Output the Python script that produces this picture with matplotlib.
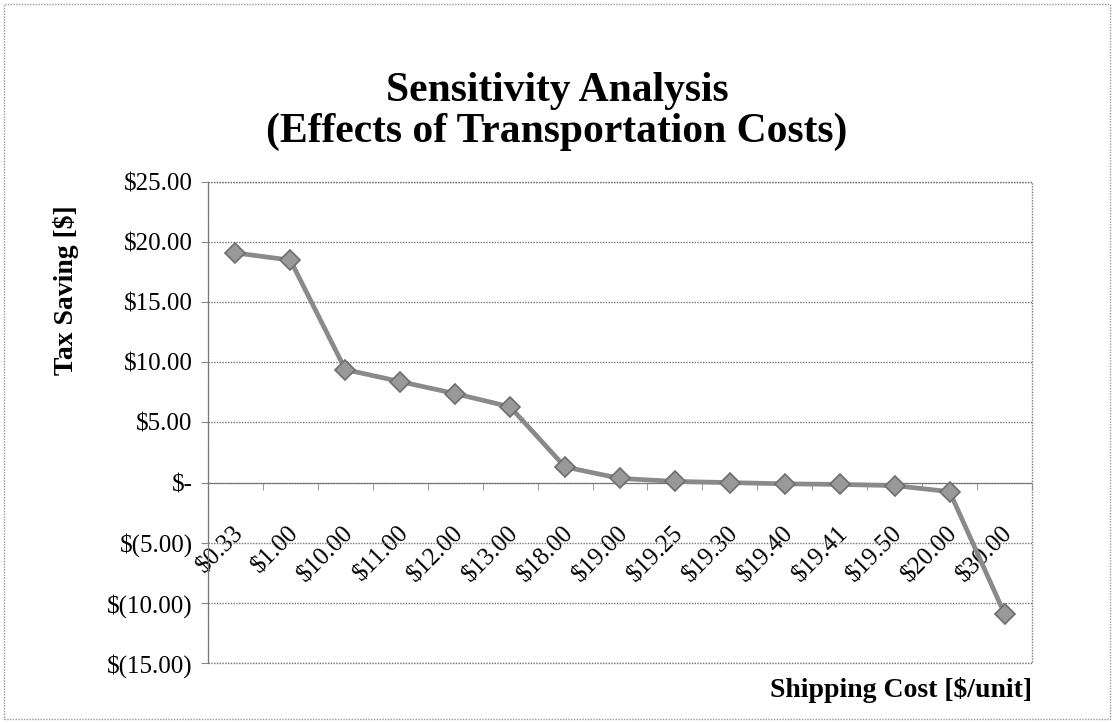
import numpy as np
import matplotlib.pyplot as plt
from matplotlib.patches import Rectangle
from matplotlib.ticker import FuncFormatter, MultipleLocator
from matplotlib.transforms import ScaledTranslation

shipping_cost = ["$0.33", "$1.00", "$10.00", "$11.00", "$12.00", "$13.00", "$18.00",
                 "$19.00", "$19.25", "$19.30", "$19.40", "$19.41", "$19.50", "$20.00", "$30.00"]
tax_saving = [19.1, 18.5, 9.4, 8.4, 7.4, 6.3, 1.3, 0.35, 0.1, 0.0, -0.1, -0.15, -0.25, -0.75, -10.9]

plt.rcParams['font.family'] = ['Liberation Serif', 'DejaVu Serif']

fig = plt.figure(figsize=(11.14, 7.23), dpi=100)
ax = fig.add_axes([0.1867, 0.083, 0.7397, 0.6653])

x = np.arange(len(shipping_cost))
ax.plot(x, tax_saving, color='#8a8a8a', lw=3.4, marker='D', ms=10,
        markerfacecolor='#999999', markeredgecolor='#6e6e6e', markeredgewidth=1.2, zorder=3)

ax.set_xlim(-0.5, len(shipping_cost) - 0.5)
ax.set_ylim(-15, 25)
ax.yaxis.set_major_locator(MultipleLocator(5))


def money(v, pos):
    if abs(v) < 1e-9:
        return "$-"
    if v < 0:
        return "$(%.2f)" % -v
    return "$%.2f" % v


ax.yaxis.set_major_formatter(FuncFormatter(money))
ax.tick_params(axis='y', labelsize=18, length=5, direction='out', color='#888888', pad=6)
ax.grid(axis='y', color='#777777', ls=(0, (1, 1)), lw=1)

# category axis crosses at zero
for s in ['top', 'right']:
    ax.spines[s].set_visible(False)
ax.spines['bottom'].set_position(('data', 0))
ax.spines['bottom'].set_color('#777777')
ax.spines['bottom'].set_linestyle((0, (1, 1)))
ax.spines['left'].set_color('#777777')
ax.spines['left'].set_linestyle((0, (1, 1)))
ax.set_xticks(x)
ax.set_xticklabels(shipping_cost, rotation=45, ha='right', va='center',
                   rotation_mode='anchor', fontsize=18)
ax.set_xticks(np.arange(-0.5, len(shipping_cost)), minor=True)
ax.tick_params(axis='x', which='major', length=0, pad=34)
ax.tick_params(axis='x', which='minor', length=5, color='#888888')
for lab in ax.get_xticklabels():
    lab.set_transform(lab.get_transform() + ScaledTranslation(0.05, 0, fig.dpi_scale_trans))

# plot area border
ax.add_patch(Rectangle((0, 0), 1, 1, transform=ax.transAxes, fill=False,
                       ec='#777777', lw=1, ls=(0, (1, 1)), clip_on=False))
# chart border
fig.add_artist(Rectangle((0.004, 0.005), 0.992, 0.99, transform=fig.transFigure, fill=False,
                         ec='#999999', lw=1, ls=(0, (1, 1))))

fig.text(0.5, 0.846, "Sensitivity Analysis\n(Effects of Transportation Costs)",
         ha='center', va='center', fontsize=30, fontweight='bold', linespacing=1.1)
fig.text(0.059, 0.599, "Tax Saving [$]", rotation=90, ha='center', va='center',
         fontsize=20, fontweight='bold')
fig.text(0.9264, 0.0456, "Shipping Cost [$/unit]", ha='right', va='center',
         fontsize=20, fontweight='bold')

plt.savefig("out.png", dpi=100)
